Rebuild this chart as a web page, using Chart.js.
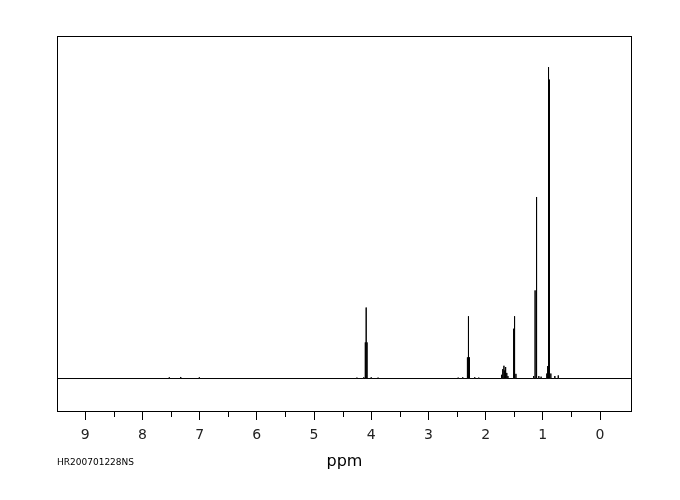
<!DOCTYPE html>
<html>
<head>
<meta charset="utf-8">
<script src="https://cdn.jsdelivr.net/npm/chart.js@4.4.1/dist/chart.umd.min.js"></script>
<style>
  body { margin: 0; background: #fff; }
  #wrap { width: 680px; height: 500px; }
</style>
</head>
<body>
<div id="wrap"><canvas id="nmrChart" width="680" height="500"></canvas></div>
<script>
// resolved lines of the 1H spectrum: chemical shift (ppm) and intensity (tallest = 100)
const linePpm = [
  7.53, 7.33, 7.005,
  4.25, 4.13, 4.103, 4.088, 4.073, 4.00, 3.88,
  2.48, 2.40, 2.318, 2.300, 2.282, 2.19, 2.12,
  1.72, 1.70, 1.68, 1.665, 1.65, 1.63, 1.61,
  1.51, 1.500, 1.49, 1.47,
  1.16, 1.135, 1.119, 1.103, 1.07, 1.03,
  0.93, 0.915, 0.900, 0.885, 0.86, 0.79, 0.73
];
const lineHeight = [
  0.4, 0.5, 0.4,
  0.3, 0.4, 11.6, 22.8, 11.6, 0.4, 0.3,
  0.3, 0.4, 6.8, 20.0, 6.8, 0.4, 0.3,
  1.2, 3.0, 4.1, 2.6, 3.7, 1.8, 0.8,
  16.0, 20.0, 6.0, 1.5,
  0.8, 28.3, 58.3, 26.0, 0.8, 0.6,
  1.6, 4.0, 100, 96, 1.6, 0.8, 1.0
];
const majorTicks = [9, 8, 7, 6, 5, 4, 3, 2, 1, 0];
const minorTicks = [8.5, 7.5, 6.5, 5.5, 4.5, 3.5, 2.5, 1.5, 0.5];
const axisTitle = 'ppm';
const sampleId = 'HR200701228NS';

const ppmMax = 9.493, ppmMin = -0.559;

// stick spectrum: baseline, up to each line, back to baseline
const order = linePpm.map((p, i) => i).sort((a, b) => linePpm[b] - linePpm[a]);
const spectrum = [{ x: ppmMax, y: 0 }];
order.forEach(i => {
  spectrum.push({ x: linePpm[i], y: 0 });
  spectrum.push({ x: linePpm[i], y: lineHeight[i] });
  spectrum.push({ x: linePpm[i], y: 0 });
});
spectrum.push({ x: ppmMin, y: 0 });

const framePlugin = {
  id: 'frame',
  afterDraw(chart) {
    const { ctx, chartArea: a } = chart;
    const xs = chart.scales.x;
    ctx.save();
    ctx.strokeStyle = '#000';
    ctx.lineWidth = 1;
    ctx.strokeRect(a.left + 0.5, a.top + 0.5, a.right - a.left - 1, a.bottom - a.top - 1);
    // short minor ticks
    ctx.beginPath();
    minorTicks.forEach(v => {
      const px = Math.round(xs.getPixelForValue(v)) + 0.5;
      ctx.moveTo(px, a.bottom);
      ctx.lineTo(px, a.bottom + 5);
    });
    ctx.stroke();
    ctx.fillStyle = '#000';
    ctx.textBaseline = 'middle';
    ctx.textAlign = 'center';
    ctx.font = '16px "DejaVu Sans"';
    ctx.fillText(axisTitle, (a.left + a.right) / 2, 462);
    ctx.textAlign = 'left';
    ctx.font = '9px "DejaVu Sans"';
    ctx.fillText(sampleId, 57, 463);
    ctx.restore();
  }
};

const nmrChart = new Chart(document.getElementById('nmrChart').getContext('2d'), {
  type: 'line',
  data: {
    datasets: [{
      data: spectrum,
      borderColor: '#000',
      borderWidth: 1,
      pointRadius: 0,
      tension: 0,
      fill: false
    }]
  },
  options: {
    responsive: false,
    animation: false,
    events: [],
    layout: { padding: { left: 57, right: 48, top: 36, bottom: 0 } },
    plugins: { legend: { display: false }, tooltip: { enabled: false } },
    scales: {
      x: {
        type: 'linear',
        reverse: true,
        min: ppmMin,
        max: ppmMax,
        afterBuildTicks: scale => { scale.ticks = majorTicks.map(v => ({ value: v })); },
        afterFit: scale => { scale.height = 88; },
        border: { display: false },
        grid: { drawOnChartArea: false, tickLength: 8, tickColor: '#000', tickWidth: 1 },
        ticks: {
          color: '#222',
          padding: 7,
          maxRotation: 0,
          autoSkip: false,
          font: { family: 'DejaVu Sans', size: 14 },
          callback: v => String(v)
        }
      },
      y: {
        display: false,
        min: -10.75,
        max: 110
      }
    }
  },
  plugins: [framePlugin]
});
</script>
</body>
</html>
